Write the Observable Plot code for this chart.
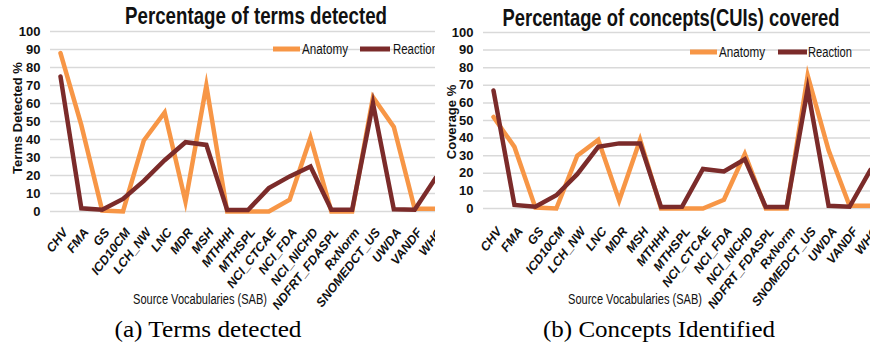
<!DOCTYPE html>
<html><head><meta charset="utf-8">
<script src="https://cdn.jsdelivr.net/npm/d3@7"></script>
<script src="https://cdn.jsdelivr.net/npm/@observablehq/plot@0.6"></script>
<style>
body{margin:0;background:#fff;}
#wrap{position:relative;width:870px;height:345px;overflow:hidden;background:#fff;}
.panel{position:absolute;top:0;width:435px;height:345px;overflow:hidden;}
</style></head><body><div id="wrap"></div>
<script>
const categories = ["CHV","FMA","GS","ICD10CM","LCH_NW","LNC","MDR","MSH","MTHHH","MTHSPL","NCI_CTCAE","NCI_FDA","NCI_NICHD","NDFRT_FDASPL","RxNorm","SNOMEDCT_US","UWDA","VANDF","WHO"];
const seriesNames = ["Anatomy","Reaction"];
const termsAnatomy  = [88, 48, 0.5, 0, 39.5, 55, 5.5, 70, 0, 0, 0, 6.5, 41, 0, 0, 63.5, 47, 1.5, 1.5];
const termsReaction = [75, 1.8, 1, 7, 17, 28.5, 38.5, 37, 0.8, 0.8, 13, 19.5, 25, 1, 1, 60, 1.2, 1, 18.5];
const conceptsAnatomy  = [52, 35, 0.5, 0, 30, 39, 4.5, 39, 0, 0, 0, 5, 31, 0, 0, 75.5, 33, 1.5, 1.5];
const conceptsReaction = [67, 2, 1, 7.5, 19.5, 35, 37, 37, 0.8, 1, 22.5, 21, 28, 0.8, 0.8, 68, 1.5, 1, 22];
const yTicks = [0,10,20,30,40,50,60,70,80,90,100];
const seriesColors = ["#F79646", "#7B2B2A"];

const SANS = "'Liberation Sans', Arial, sans-serif";
const SERIF = "'Liberation Serif', 'Times New Roman', serif";

function addText(g, o) {
  const t = g.append("text")
    .attr("x", o.x).attr("y", o.y)
    .attr("text-anchor", o.anchor || "start")
    .attr("font-family", o.family || SANS)
    .attr("font-size", o.size)
    .attr("font-weight", o.weight || "normal")
    .attr("fill", o.fill || "#111")
    .text(o.text);
  if (o.length) t.attr("textLength", o.length).attr("lengthAdjust", "spacingAndGlyphs");
  if (o.transform) t.attr("transform", o.transform);
  return t;
}

function makePanel(cfg) {
  const rows = [];
  seriesNames.forEach((s, k) => {
    const vals = k === 0 ? cfg.anatomy : cfg.reaction;
    categories.forEach((c, i) => rows.push({cat: c, value: vals[i], series: s}));
  });
  const W = 435, H = 345;
  const svg = Plot.plot({
    width: W, height: H,
    marginLeft: cfg.ml, marginRight: 0, marginTop: cfg.mt, marginBottom: H - cfg.y0,
    style: {background: "#fff", fontFamily: SANS, overflow: "hidden"},
    x: {type: "point", domain: categories, range: [cfg.x0, W], padding: 0, align: 0.5, round: false, axis: null},
    y: {domain: [0, 100], axis: null},
    color: {domain: seriesNames, range: seriesColors},
    marks: [
      Plot.ruleY(yTicks, {stroke: "#D9D9D9", strokeWidth: 1.5}),
      Plot.axisY({ticks: yTicks, tickSize: 0, tickPadding: 10, fontSize: 13, fontWeight: "bold", fontFamily: SANS, fill: "#111", label: null}),
      Plot.line(rows, {x: "cat", y: "value", z: "series", stroke: "series", strokeWidth: 4.5, strokeLinejoin: "miter", strokeMiterlimit: 6}),
      Plot.text(categories, {x: d => d, text: d => d, frameAnchor: "bottom", dx: cfg.tdx, dy: cfg.tdy, rotate: -52, textAnchor: "end", lineAnchor: "bottom", fontSize: 12.5, fontWeight: "bold", fontStyle: "italic", fontFamily: SANS, fill: "#111"})
    ]
  });
  const g = d3.select(svg).append("g");
  addText(g, {x: cfg.titleX, y: cfg.titleY, anchor: "middle", size: 23, weight: "bold", text: cfg.title, length: cfg.titleLen});
  addText(g, {x: 0, y: 0, anchor: "middle", size: 13, weight: "bold", text: cfg.yTitle,
    transform: `translate(${cfg.yTitleX},${cfg.yTitleY}) rotate(-90)`});
  addText(g, {x: cfg.xTitleX, y: 304, anchor: "middle", size: 14, text: "Source Vocabularies (SAB)", length: 134});
  addText(g, {x: cfg.captionX, y: 337, anchor: "middle", size: 24, family: SERIF, fill: "#000", text: cfg.caption, length: cfg.captionLen});
  cfg.legend.forEach((L, k) => {
    g.append("line").attr("x1", L[0]).attr("x2", L[1]).attr("y1", cfg.legendY).attr("y2", cfg.legendY)
      .attr("stroke", seriesColors[k]).attr("stroke-width", 5);
    addText(g, {x: L[2], y: cfg.legendY + 5, size: 14, text: seriesNames[k], length: L[3]});
  });
  const div = document.createElement("div");
  div.className = "panel";
  div.style.left = cfg.left + "px";
  div.appendChild(svg);
  document.getElementById("wrap").appendChild(div);
}

makePanel({left: 0, ml: 50, mt: 31, y0: 211, x0: 60, tdx: 8, tdy: 21,
  title: "Percentage of terms detected", titleX: 256, titleY: 24, titleLen: 262,
  yTitle: "Terms Detected %", yTitleX: 22, yTitleY: 118,
  xTitleX: 200, captionX: 208, caption: "(a) Terms detected", captionLen: 187,
  legendY: 49, legend: [[273, 300, 302, 46], [360, 390, 393, 45]],
  anatomy: termsAnatomy, reaction: termsReaction});

makePanel({left: 435, ml: 48, mt: 32, y0: 208, x0: 58, tdx: 9, tdy: 23,
  title: "Percentage of concepts(CUIs) covered", titleX: 236, titleY: 26, titleLen: 337,
  yTitle: "Coverage %", yTitleX: 21, yTitleY: 122,
  xTitleX: 200, captionX: 224, caption: "(b) Concepts Identified", captionLen: 232,
  legendY: 52, legend: [[255, 282, 284, 46], [343, 372, 373, 44]],
  anatomy: conceptsAnatomy, reaction: conceptsReaction});
</script></body></html>
